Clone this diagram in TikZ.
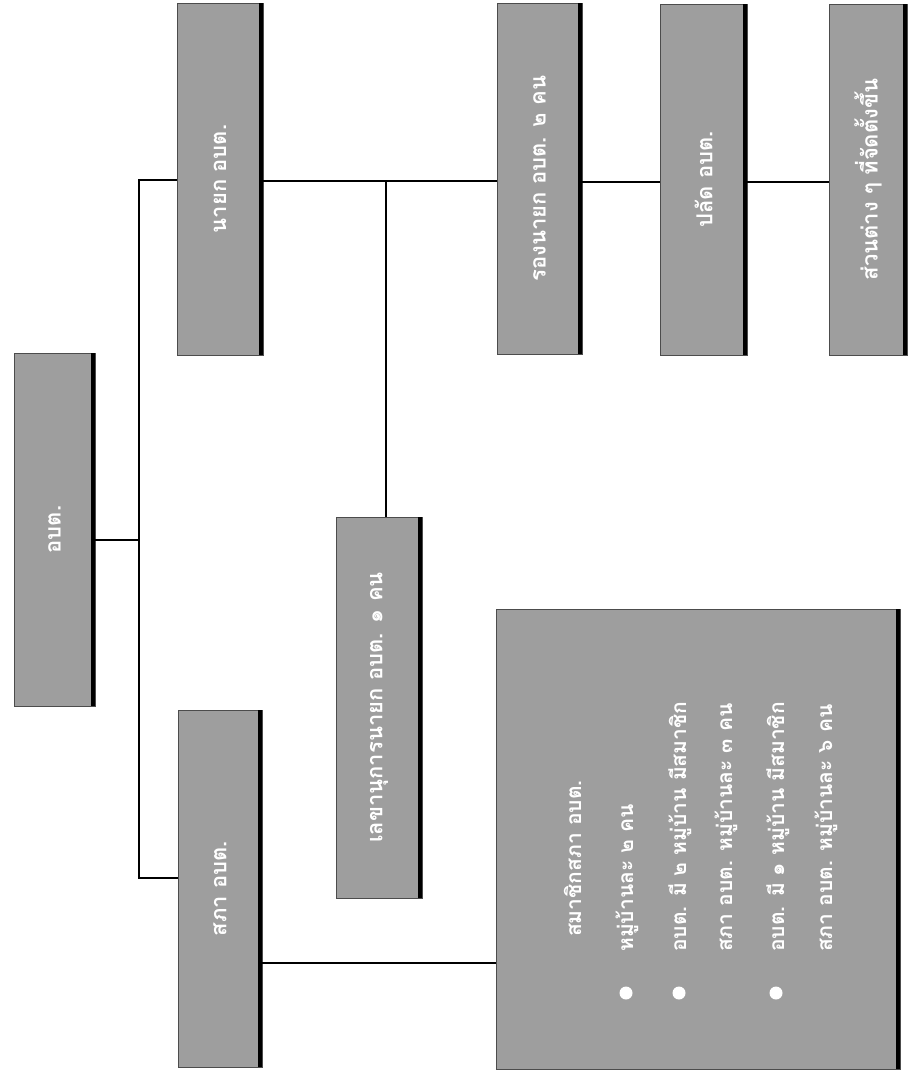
\documentclass[tikz,border=0pt]{standalone}
\usepackage{fontspec}
\usepackage{graphicx}
\newfontfamily\thaifont[Script=Thai]{Loma}
\begin{document}
\begin{tikzpicture}[x=1pt,y=-1pt,
  thfont/.style={font=\thaifont\bfseries\fontsize{22}{26}\selectfont},
  box/.style={draw=black!70, line width=0.6pt, fill=black!38, text=white, inner sep=0pt, thfont},
  bigtxt/.style={text=white, inner sep=0pt, rotate=90, anchor=base west, font=\thaifont\bfseries\fontsize{21}{25}\selectfont},
  wire/.style={line width=1.6pt, draw=black}]
\useasboundingbox (0,0) rectangle (909,1074);
% boxes
\node[box, minimum width=81pt, minimum height=353pt] (root) at (54.5,529.5) {\rotatebox{90}{อบต.}};
\node[box, minimum width=86pt, minimum height=352pt] (nayok) at (220,179) {\rotatebox{90}{นายก อบต.}};
\node[box, minimum width=84pt, minimum height=357pt] (sapha) at (220,888.5) {\rotatebox{90}{สภา อบต.}};
\node[box, minimum width=86pt, minimum height=381pt] (lekha) at (379,707.5) {\rotatebox{90}{เลขานุการนายก อบต. ๑ คน}};
\node[box, minimum width=85pt, minimum height=351pt] (rong) at (539.5,178.5) {\rotatebox{90}{รองนายก อบต. ๒ คน}};
\node[box, minimum width=87pt, minimum height=351pt] (palat) at (703.5,179.5) {\rotatebox{90}{ปลัด อบต.}};
\node[box, minimum width=78pt, minimum height=351pt] (suan) at (868,179.5) {\rotatebox{90}{ส่วนต่าง ๆ ที่จัดตั้งขึ้น}};
\node[box, minimum width=404pt, minimum height=460pt] (big) at (698,839) {};
% shadows on the right edge
\foreach \n in {root,nayok,sapha,lekha,rong,palat,suan,big}
  \fill[black] ([xshift=-4pt]\n.north east) rectangle (\n.south east);
% big box text
\node[bigtxt] (t1) at (581,937) {สมาชิกสภา อบต.};
\node[bigtxt] (t2) at (633,952) {หมู่บ้านละ ๒ คน};
\node[bigtxt] (t3) at (686,952) {อบต. มี ๒ หมู่บ้าน มีสมาชิก};
\node[bigtxt] (t4) at (732,952) {สภา อบต. หมู่บ้านละ ๓ คน};
\node[bigtxt] (t5) at (784,952) {อบต. มี ๑ หมู่บ้าน มีสมาชิก};
\node[bigtxt] (t6) at (832,952) {สภา อบต. หมู่บ้านละ ๖ คน};
\fill[white] (626,993) circle (6.5pt);
\fill[white] (679,993) circle (6.5pt);
\fill[white] (776,993) circle (6.5pt);
% connectors
\coordinate (b1) at (139,180);
\coordinate (b2) at (139,878);
\coordinate (bj) at (139,540);
\coordinate (lk) at (386,181);
\draw[wire] (nayok.west |- b1) -- (b1) -- (b2) -- (sapha.west |- b2);
\draw[wire] (root.east |- bj) -- (bj);
\draw[wire] (nayok.east |- lk) -- (rong.west |- lk);
\draw[wire] (lk) -- (lk |- lekha.north);
\coordinate (r1) at (620,182);
\draw[wire] (rong.east |- r1) -- (palat.west |- r1);
\draw[wire] (palat.east |- r1) -- (suan.west |- r1);
\coordinate (s1) at (380,963);
\draw[wire] (sapha.east |- s1) -- (big.west |- s1);
\end{tikzpicture}
\end{document}
